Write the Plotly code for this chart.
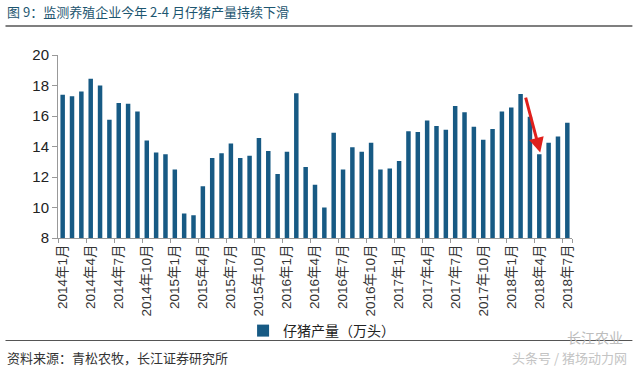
import plotly.graph_objects as go

# ---- data ----
years = [2014, 2015, 2016, 2017, 2018]
months = [f"{y}年{m}月" for y in years for m in range(1, 13)][:55]
piglets = [17.4, 17.3, 17.6, 18.45, 18.0, 15.75, 16.85, 16.8, 16.3, 14.4, 13.6, 13.5,
           12.5, 9.6, 9.5, 11.4, 13.25, 13.55, 14.2, 13.25, 13.4, 14.55, 13.7, 12.2,
           13.65, 17.5, 12.65, 11.5, 10.0, 14.9, 12.5, 13.95, 13.65, 14.25, 12.5, 12.55,
           13.05, 15.0, 14.95, 15.7, 15.35, 15.1, 16.65, 16.25, 15.3, 14.45, 15.15, 16.3,
           16.55, 17.45, 15.95, 13.5, 14.25, 14.65, 15.55]
tick_labels = months[::3]
series_name = "仔猪产量（万头）"
title_text = "图 9：监测养殖企业今年 2-4 月仔猪产量持续下滑"
source_text = "资料来源：青松农牧，长江证券研究所"

FONT = "Arial, 'Liberation Sans', 'Noto Sans CJK SC', sans-serif"
CJK = "'Noto Sans CJK SC', Arial, sans-serif"
BAR = "#175a84"

# plot area geometry (pixels) for paper conversions
L, R, T, B = 57.6, 572.5, 55, 238
W, H = R - L, B - T
px = lambda x: (x - L) / W
py = lambda y: (B - y) / H

fig = go.Figure()
fig.add_trace(go.Bar(x=months, y=piglets, name=series_name, marker_color=BAR,
                     marker_line_width=0, showlegend=True))

fig.update_layout(
    width=640, height=368,
    margin=dict(l=L, r=640 - R, t=T, b=368 - B, autoexpand=False),
    paper_bgcolor="white", plot_bgcolor="white",
    bargap=0.52,
    font=dict(family=FONT, color="#222"),
    showlegend=True,
    legend=dict(orientation="h", x=px(243), y=py(331), xanchor="left", yanchor="middle",
                font=dict(family=CJK, size=14, color="#222"), bgcolor="rgba(0,0,0,0)",
                itemwidth=30),
    xaxis=dict(type="category", tickmode="array", tickvals=tick_labels, ticktext=tick_labels,
               tickangle=-90, tickfont=dict(size=13.5, family=FONT, color="#333"),
               showline=True, linecolor="#999", linewidth=1, automargin=False,
               ticks="outside", ticklen=4, tickcolor="#999", tickson="boundaries",
               showgrid=False, range=[-0.5, len(months) - 0.5]),
    yaxis=dict(range=[8, 20], dtick=2, tick0=8, showline=True, linecolor="#999", linewidth=1,
               ticks="outside", ticklen=5, tickcolor="#999", showgrid=False, zeroline=False,
               automargin=False, tickfont=dict(size=15, color="#222")),
)

# title + rules
fig.add_annotation(text=title_text, xref="paper", yref="paper", x=px(5), y=py(12),
                   xanchor="left", yanchor="middle", showarrow=False,
                   font=dict(family=CJK, size=13, color="#1d5670"))
fig.add_shape(type="line", xref="paper", yref="paper", x0=px(5), x1=px(633),
              y0=py(26), y1=py(26), line=dict(color="#555", width=1.5))
fig.add_shape(type="line", xref="paper", yref="paper", x0=px(5), x1=px(633),
              y0=py(340.5), y1=py(340.5), line=dict(color="#555", width=1.2))
fig.add_annotation(text=source_text, xref="paper", yref="paper", x=px(5), y=py(358),
                   xanchor="left", yanchor="middle", showarrow=False,
                   font=dict(family=CJK, size=13, color="#333"))

# watermarks
fig.add_annotation(text="长江农业", xref="paper", yref="paper", x=px(596), y=py(337),
                   xanchor="center", yanchor="middle", showarrow=False,
                   font=dict(family=CJK, size=14, color="#bdbdbd"))
fig.add_annotation(text="头条号 / 猪场动力网", xref="paper", yref="paper", x=px(570), y=py(357),
                   xanchor="center", yanchor="middle", showarrow=False,
                   font=dict(family=CJK, size=13, color="#c4c4c4"))

# red arrow (2018-02 -> 2018-04)
fig.add_annotation(x=51.1, y=13.6, ax=49.5, ay=17.3, xref="x", yref="y", axref="x", ayref="y",
                   showarrow=True, arrowhead=2, arrowsize=1, arrowwidth=3,
                   arrowcolor="#e0201c", text="")

fig.write_html("out.html", config={"displayModeBar": False},
               post_script="document.body.style.margin='0';document.body.style.padding='0';")
